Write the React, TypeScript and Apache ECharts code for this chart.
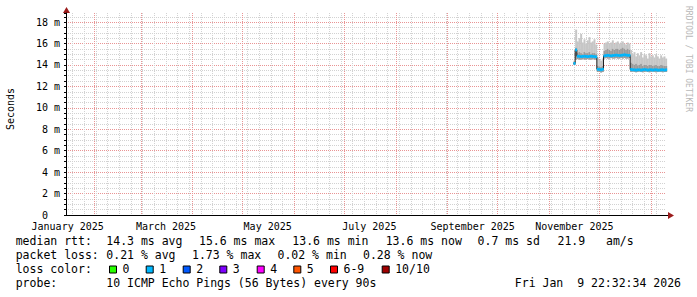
import React, { useEffect, useRef } from "react";
import * as echarts from "echarts";

// ---------- axis / categories ----------
const axisStartDate = "2025-01-15";
const dayCount = 361;
const labelMonths = ["2025-01", "2025-03", "2025-05", "2025-07", "2025-09", "2025-11"];
const monthNames = ["January", "February", "March", "April", "May", "June", "July", "August", "September", "October", "November", "December"];
const yMax = 18.85;

// ---------- data (one sample per day, starting at firstSampleDate) ----------
const firstSampleDate = "2025-11-16";
const medianRtt = [
  14.15, 15.4,
  14.82, 14.8, 14.78, 14.8, 14.82, 14.8, 14.78, 14.8, 14.82, 14.8, 14.78, 14.75,
  13.6, 13.58, 13.55, 13.6,
  14.85, 14.88, 14.9, 14.88, 14.85, 14.88, 14.9, 14.92, 14.9, 14.88, 14.9, 14.92, 14.95, 14.92, 14.9, 14.9,
  13.58, 13.55, 13.55, 13.52, 13.55, 13.55, 13.52, 13.55, 13.58, 13.55, 13.52, 13.55, 13.55, 13.52, 13.55, 13.55, 13.52, 13.52, 13.55, 13.55, 13.52, 13.55,
];
const smokeBottom = [
  14.0, 14.5,
  14.55, 14.5, 14.5, 14.55, 14.5, 14.5, 14.55, 14.5, 14.5, 14.55, 14.5, 14.5,
  13.35, 13.35, 13.3, 13.35,
  14.6, 14.65, 14.6, 14.6, 14.65, 14.6, 14.6, 14.65, 14.6, 14.6, 14.65, 14.6, 14.65, 14.6, 14.6, 14.65,
  13.35, 13.38, 13.35, 13.32, 13.35, 13.38, 13.35, 13.32, 13.35, 13.38, 13.35, 13.32, 13.35, 13.38, 13.35, 13.32, 13.35, 13.38, 13.35, 13.32, 13.35, 13.35,
];
const smokeDarkTop = [
  14.3, 15.6,
  15.1, 15.2, 15.1, 15.0, 15.2, 15.1, 15.1, 15.2, 15.0, 15.1, 15.1, 15.0,
  13.9, 13.85, 13.8, 13.9,
  15.3, 15.4, 15.5, 15.4, 15.3, 15.5, 15.4, 15.5, 15.5, 15.4, 15.5, 15.6, 15.5, 15.4, 15.5, 15.4,
  14.2, 14.1, 14.0, 14.1, 13.95, 14.0, 14.1, 13.9, 14.0, 14.0, 13.9, 14.0, 14.0, 13.9, 13.95, 14.0, 13.9, 13.9, 14.0, 13.95, 13.9, 13.9,
];
const smokeTop = [
  14.4, 17.3,
  16.2, 16.5, 16.9, 16.1, 16.4, 16.0, 16.3, 16.6, 16.1, 16.2, 16.4, 15.9,
  14.7, 14.5, 14.4, 14.6,
  16.0, 16.1, 16.2, 16.0, 16.1, 16.3, 16.0, 16.1, 16.2, 16.0, 16.1, 16.2, 16.0, 15.9, 16.1, 16.0,
  15.4, 15.0, 15.2, 14.8, 15.1, 14.9, 15.2, 14.7, 15.0, 14.9, 14.6, 15.1, 14.8, 14.9, 14.7, 15.0, 14.8, 14.6, 14.9, 14.7, 14.8, 14.6,
];
const sampleLossLevel = 1; // loss colour class of the median band

// ---------- legend ----------
const lossLabels = ["0", "1", "2", "3", "4", "5", "6-9", "10/10"];
const lossColors = ["#26ff00", "#00b8ff", "#0059ff", "#7e00ff", "#ff00ff", "#ff5500", "#ff0000", "#a00000"];
const rttStats = ["14.3 ms avg", "15.6 ms max", "13.6 ms min", "13.6 ms now", "0.7 ms sd", "21.9   am/s"];
const lossStats = ["0.21 % avg", "1.73 % max", "0.02 % min", "0.28 % now"];
const probeText = "10 ICMP Echo Pings (56 Bytes) every 90s";
const stampText = "Fri Jan  9 22:32:34 2026";

const MONO = '"DejaVu Sans Mono", monospace';
const nb = (s: string) => s.replace(/ /g, "\u00A0");

export default function App() {
  const ref = useRef<HTMLDivElement>(null);
  useEffect(() => {
    if (!ref.current) return;
    const chart = echarts.init(ref.current, undefined, { renderer: "svg" });

    const base = Date.parse(axisStartDate + "T00:00:00Z");
    const cats = Array.from({ length: dayCount }, (_, i) => new Date(base + i * 86400000).toISOString().slice(0, 10));
    const first = cats.indexOf(firstSampleDate);

    const smokeData = medianRtt.map((_, k) => [first + k, smokeBottom[k], smokeDarkTop[k], smokeTop[k]]);
    const bandData = medianRtt.map((v, k) => [first + k, v]);
    const lineData = cats.map((_, i) => (i >= first && i - first < medianRtt.length ? medianRtt[i - first] : null));

    const txtFont = 11.5;
    const text = (x: number, y: number, s: string, align = "left", extra: any = {}) => ({
      type: "text",
      x,
      y,
      silent: true,
      style: { text: nb(s), fontFamily: MONO, fontSize: txtFont, fill: "#000", align, verticalAlign: "middle", ...extra },
    });

    const rttX = [106.3, 199, 292.3, 385.7, 477.6, 557.5];
    const lossX = [106.3, 192, 277.5, 363];
    const boxX = [109, 145.7, 182.7, 219.3, 256.7, 293.3, 330, 381.7];
    const rowY = [241.3, 255.3, 269.3, 283.3];

    const graphics: any[] = [];
    graphics.push(text(15.7, rowY[0], "median rtt:"));
    rttStats.forEach((s, i) => graphics.push(text(rttX[i], rowY[0], s)));
    graphics.push(text(15.7, rowY[1], "packet loss:"));
    lossStats.forEach((s, i) => graphics.push(text(lossX[i], rowY[1], s)));
    graphics.push(text(15.7, rowY[2], "loss color:"));
    lossLabels.forEach((s, i) => {
      graphics.push({
        type: "rect",
        silent: true,
        shape: { x: boxX[i] + 0.5, y: 266, width: 7, height: 7 },
        style: { fill: lossColors[i], stroke: "#000", lineWidth: 1 },
      });
      graphics.push(text(boxX[i] + 13.5, rowY[2], s));
    });
    graphics.push(text(15.7, rowY[3], "probe:"));
    graphics.push(text(106.3, rowY[3], probeText));
    graphics.push(text(681, rowY[3], stampText, "right"));
    // y axis title
    graphics.push({
      type: "text",
      x: 10.5,
      y: 109,
      rotation: Math.PI / 2,
      silent: true,
      style: { text: "Seconds", fontFamily: MONO, fontSize: 10, fill: "#000", align: "center", verticalAlign: "middle" },
    });
    // watermark
    graphics.push({
      type: "text",
      x: 688,
      y: 59,
      rotation: -Math.PI / 2,
      silent: true,
      style: { text: nb("RRDTOOL / TOBI OETIKER"), fontFamily: MONO, fontSize: 8, fill: "#b8b8b8", align: "center", verticalAlign: "middle" },
    });
    // axis arrows
    graphics.push({ type: "line", silent: true, shape: { x1: 666, y1: 215.5, x2: 669, y2: 215.5 }, style: { stroke: "#000", lineWidth: 1 } });
    graphics.push({ type: "polygon", silent: true, shape: { points: [[668, 212], [674, 215.5], [668, 219]] }, style: { fill: "#9b1c1c" } });
    graphics.push({ type: "polygon", silent: true, shape: { points: [[63, 13], [66.5, 7], [70, 13]] }, style: { fill: "#9b1c1c" } });

    const gridGray = "#d2d2d2";
    const gridRed = "#e99494";

    chart.setOption({
      animation: false,
      backgroundColor: "#ffffff",
      grid: { left: 66, right: 31, top: 13, bottom: 82, containLabel: false, outerBoundsMode: "none" },
      xAxis: [
        {
          type: "category",
          data: cats,
          boundaryGap: false,
          position: "bottom",
          axisLine: { show: true, lineStyle: { color: "#000", width: 1 } },
          axisTick: { show: false },
          axisLabel: {
            interval: (_i: number, v: string) => v.slice(8) === "16" && labelMonths.includes(v.slice(0, 7)),
            formatter: (v: string) => monthNames[+v.slice(5, 7) - 1] + " " + v.slice(0, 4),
            fontFamily: MONO,
            fontSize: 10,
            color: "#000",
            margin: 6,
          },
          splitLine: {
            show: true,
            interval: (_i: number, v: string) => new Date(v + "T00:00:00Z").getUTCDay() === 0,
            lineStyle: { color: gridGray, width: 1, type: [1, 1] },
          },
          z: 1,
        },
        {
          type: "category",
          data: cats,
          boundaryGap: false,
          axisLine: { show: false },
          axisTick: { show: false },
          axisLabel: { show: false },
          splitLine: {
            show: true,
            interval: (_i: number, v: string) => v.slice(8) === "01",
            lineStyle: { color: gridRed, width: 1, type: [1, 1] },
          },
          z: 1,
        },
      ],
      yAxis: {
        type: "value",
        min: 0,
        max: yMax,
        interval: 0.5,
        axisLine: { show: true, lineStyle: { color: "#000", width: 1 } },
        axisTick: { show: true, length: 2, lineStyle: { color: "#000" } },
        axisLabel: {
          formatter: (v: number) => {
            const r = Math.round(v * 100) / 100;
            if (r > 18 || Math.abs(r % 2) > 1e-6) return "";
            return r === 0 ? "0\u00A0\u00A0" : r + "\u00A0m";
          },
          fontFamily: MONO,
          fontSize: 10,
          color: "#000",
          margin: 6,
        },
        splitLine: {
          show: true,
          showMaxLine: false,
          lineStyle: { color: [gridRed, gridGray, gridGray, gridGray], width: 1, type: [1, 1] },
        },
      },
      series: [
        {
          name: "smoke",
          type: "custom",
          xAxisIndex: 0,
          z: 3,
          encode: { x: 0, y: [1, 2, 3] },
          data: smokeData,
          renderItem: (_p: any, api: any) => {
            const x = api.value(0);
            const w = api.size([1, 0])[0];
            const lo = api.coord([x, api.value(1)]);
            const dk = api.coord([x, api.value(2)]);
            const hi = api.coord([x, api.value(3)]);
            return {
              type: "group",
              children: [
                { type: "rect", shape: { x: hi[0] - w / 2, y: hi[1], width: w + 0.3, height: lo[1] - hi[1] }, style: { fill: "#c6c6c6" } },
                { type: "rect", shape: { x: dk[0] - w / 2, y: dk[1], width: w + 0.3, height: lo[1] - dk[1] }, style: { fill: "#9a9a9a" } },
              ],
            };
          },
        },
        {
          name: "median",
          type: "line",
          xAxisIndex: 0,
          z: 4,
          step: "middle",
          showSymbol: false,
          symbol: "none",
          connectNulls: false,
          data: lineData,
          lineStyle: { color: "#202020", width: 1 },
        },
        {
          name: "median loss band",
          type: "custom",
          xAxisIndex: 0,
          z: 5,
          encode: { x: 0, y: 1 },
          data: bandData,
          renderItem: (_p: any, api: any) => {
            const x = api.value(0);
            const w = api.size([1, 0])[0];
            const a = api.coord([x, api.value(1) + 0.13]);
            const b = api.coord([x, api.value(1) - 0.13]);
            return {
              type: "rect",
              shape: { x: a[0] - w / 2, y: a[1], width: w + 0.3, height: b[1] - a[1] },
              style: { fill: lossColors[sampleLossLevel] },
            };
          },
        },
      ],
      graphic: graphics,
    });
    return () => chart.dispose();
  }, []);
  return <div ref={ref} style={{ position: "fixed", left: 0, top: 0, width: 697, height: 297, background: "#fff" }} />;
}
